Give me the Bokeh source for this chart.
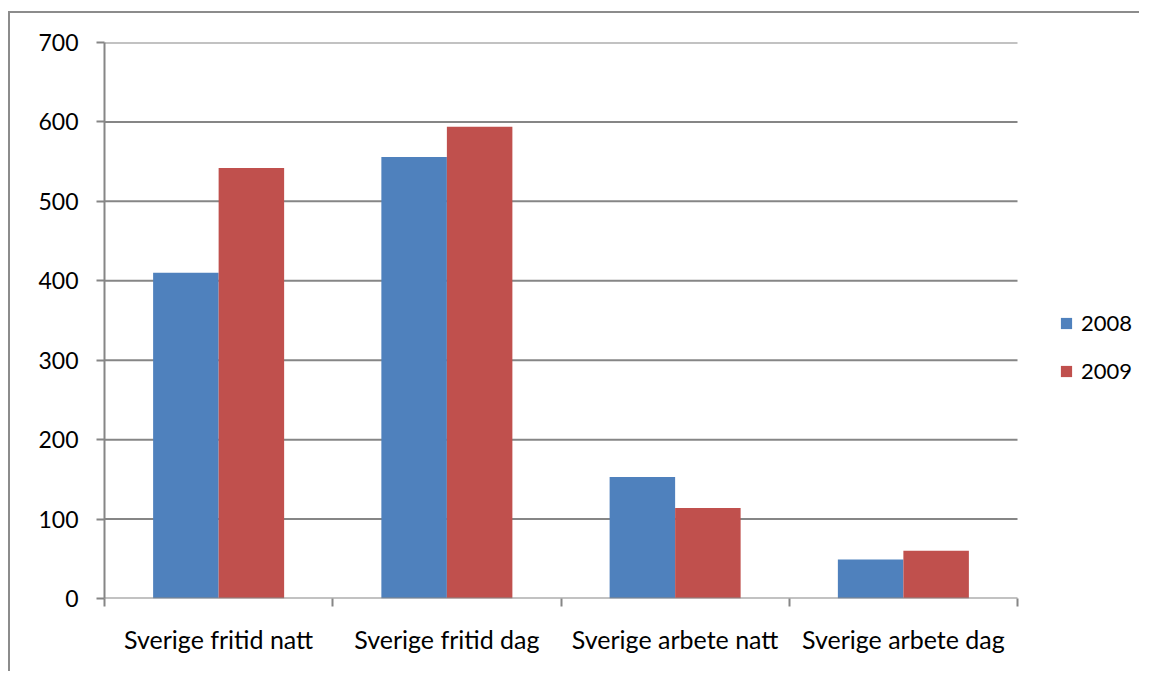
from bokeh.plotting import figure
from bokeh.models import Range1d, FixedTicker, Legend, LegendItem
from bokeh.embed import file_html
from bokeh.resources import INLINE

categories = ["Sverige fritid natt", "Sverige fritid dag", "Sverige arbete natt", "Sverige arbete dag"]
series_names = ["2008", "2009"]
values_2008 = [410, 556, 153, 49]
values_2009 = [542, 594, 114, 60]
y_ticks = [0, 100, 200, 300, 400, 500, 600, 700]

BLUE = "#4f81bd"
RED = "#c0504d"
GRAY = "#868686"
FONT = "Lato"

W, H = 1131, 660
LEFT, TOP, BOTTOM = 94, 29, 75
PLOT_W = 913  # pixel width of the category area
n = len(categories)
x_end = n * (W - LEFT) / PLOT_W  # extend frame to the right for the legend

p = figure(width=W, height=H, output_backend="svg", toolbar_location=None,
           x_range=Range1d(0, x_end), y_range=Range1d(0, 700),
           min_border_left=LEFT, min_border_top=TOP, min_border_right=0, min_border_bottom=BOTTOM)
p.styles = {"border-left": "2px solid #8c8c8c", "border-top": "2px solid #8c8c8c",
            "margin-top": "11px", "margin-left": "8px"}
p.outline_line_color = None
p.background_fill_color = "white"
p.border_fill_color = "white"

# horizontal gridlines and x axis line, limited to the category area
p.segment(x0=[0] * (len(y_ticks) - 1), x1=[n] * (len(y_ticks) - 1), y0=y_ticks[1:], y1=y_ticks[1:],
          line_color=GRAY, line_width=2)

bw = 0.287
xc = [i + 0.5 for i in range(n)]
x08 = [x - bw / 2 for x in xc]
x09 = [x + bw / 2 for x in xc]
r1 = p.vbar(x=x08, top=values_2008, width=bw, fill_color=BLUE, line_color=None)
r2 = p.vbar(x=x09, top=values_2009, width=bw, fill_color=RED, line_color=None)

p.segment(x0=[0], x1=[n], y0=[0], y1=[0], line_color=GRAY, line_width=2)

# x axis: labels at centers, ticks at boundaries
xa = p.xaxis[0]
xa.ticker = FixedTicker(ticks=xc, minor_ticks=list(range(n + 1)))
xa.major_label_overrides = {x: c for x, c in zip(xc, categories)}
xa.major_tick_line_color = None
xa.major_tick_out = 0
xa.major_tick_in = 0
xa.minor_tick_line_color = GRAY
xa.minor_tick_line_width = 2
xa.minor_tick_out = 8
xa.minor_tick_in = 0
xa.axis_line_color = None
xa.major_label_standoff = 17
xa.major_label_text_font = FONT
xa.major_label_text_font_size = "25px"
xa.major_label_text_color = "black"

ya = p.yaxis[0]
ya.ticker = FixedTicker(ticks=y_ticks)
ya.minor_tick_line_color = None
ya.major_tick_line_color = GRAY
ya.major_tick_line_width = 2
ya.major_tick_out = 8
ya.major_tick_in = 0
ya.axis_line_color = GRAY
ya.axis_line_width = 2
ya.major_label_standoff = 18
ya.major_label_text_font = FONT
ya.major_label_text_font_size = "23px"
ya.major_label_text_color = "black"

p.xgrid.visible = False
p.ygrid.visible = False

legend = Legend(items=[LegendItem(label=series_names[0], renderers=[r1]),
                       LegendItem(label=series_names[1], renderers=[r2])],
                location=(955, 214), orientation="vertical")
legend.padding = 0
legend.margin = 0
legend.border_line_color = None
legend.background_fill_alpha = 0
legend.glyph_width = 14
legend.glyph_height = 14
legend.label_height = 20
legend.spacing = 21
legend.label_standoff = 8
legend.label_text_font = FONT
legend.label_text_font_size = "22px"
legend.label_text_color = "black"
p.add_layout(legend, "center")

open("out.html", "w").write(file_html(p, INLINE))
